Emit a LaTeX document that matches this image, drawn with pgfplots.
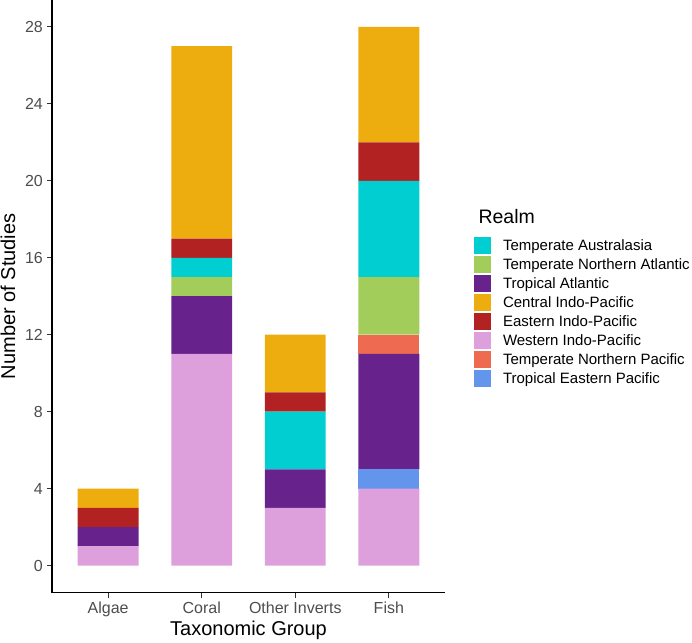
\documentclass[border=0pt]{standalone}
\usepackage{pgfplots}
\pgfplotsset{compat=1.18}
\usepackage{fontspec}
\setmainfont{Liberation Sans}
\definecolor{cTAus}{HTML}{00CED1}
\definecolor{cTNA}{HTML}{A2CD5A}
\definecolor{cTA}{HTML}{68228B}
\definecolor{cCIP}{HTML}{EEAD0E}
\definecolor{cEIP}{HTML}{B22222}
\definecolor{cWIP}{HTML}{DDA0DD}
\definecolor{cTNP}{HTML}{EE6A50}
\definecolor{cTEP}{HTML}{6495ED}
\definecolor{tickgray}{HTML}{4D4D4D}
\definecolor{tickline}{HTML}{333333}
\pgfplotsset{myleg/.style={legend image code/.code={\fill[fill=#1, draw=none] (0pt,-3.5pt) rectangle (17pt,13.5pt); \path[draw=none, fill=none] (0pt,-5.5pt) rectangle (29pt,13.5pt);}}}
\begin{document}
\begin{tikzpicture}
\path[use as bounding box] (0,0) rectangle (692pt,642pt);
\begin{axis}[
  at={(52pt,49.5pt)}, anchor=south west,
  scale only axis, width=393pt, height=592.5pt,
  xmin=0.4, xmax=4.6, ymin=-1.4, ymax=29.4,
  ybar stacked, bar width=0.65,
  clip=false,
  axis lines=left, axis line style={-, line width=1.1pt, black},
  xtick={1,2,3,4}, xticklabels={Algae,Coral,Other Inverts,Fish},
  ytick={0,4,8,12,16,20,24,28},
  tick align=outside, major tick length=5pt,
  tick style={line width=1pt, color=tickline},
  /pgf/number format/assume math mode=true,
  tick label style={font=\fontsize{16}{19}\selectfont, text=tickgray, inner sep=0pt},
  xticklabel style={anchor=base, yshift=-15.5pt},
  yticklabel style={anchor=east, xshift=-4pt},
  xlabel={Taxonomic Group},
  ylabel={Number of Studies},
  every axis x label/.style={at={(axis description cs:0.5,-0.0734)}, anchor=base, font=\fontsize{20}{24}\selectfont},
  every axis y label/.style={at={(axis description cs:-0.0941,0.5)}, anchor=base, rotate=90, font=\fontsize{20}{24}\selectfont},
  legend style={at={(axis description cs:1.0738,0.6)}, anchor=north west, draw=none, fill=none,
    inner xsep=0pt, inner ysep=0pt, outer sep=0pt, row sep=0pt, column sep=0pt,
    font=\fontsize{15}{18}\selectfont, cells={anchor=base west},
    nodes={inner sep=0pt, text depth=0pt}},
]
% stacking order bottom to top
\addplot[fill=cWIP, draw=none, forget plot] coordinates {(1,1) (2,11) (3,3) (4,4)};
\addplot[fill=cTEP, draw=none, forget plot] coordinates {(1,0) (2,0) (3,0) (4,1)};
\addplot[fill=cTA, draw=none, forget plot] coordinates {(1,1) (2,3) (3,2) (4,6)};
\addplot[fill=cTNP, draw=none, forget plot] coordinates {(1,0) (2,0) (3,0) (4,1)};
\addplot[fill=cTNA, draw=none, forget plot] coordinates {(1,0) (2,1) (3,0) (4,3)};
\addplot[fill=cTAus, draw=none, forget plot] coordinates {(1,0) (2,1) (3,3) (4,5)};
\addplot[fill=cEIP, draw=none, forget plot] coordinates {(1,1) (2,1) (3,1) (4,2)};
\addplot[fill=cCIP, draw=none, forget plot] coordinates {(1,1) (2,10) (3,3) (4,6)};
\addlegendimage{myleg=cTAus}\addlegendentry{Temperate Australasia}
\addlegendimage{myleg=cTNA}\addlegendentry{Temperate Northern Atlantic}
\addlegendimage{myleg=cTA}\addlegendentry{Tropical Atlantic}
\addlegendimage{myleg=cCIP}\addlegendentry{Central Indo-Pacific}
\addlegendimage{myleg=cEIP}\addlegendentry{Eastern Indo-Pacific}
\addlegendimage{myleg=cWIP}\addlegendentry{Western Indo-Pacific}
\addlegendimage{myleg=cTNP}\addlegendentry{Temperate Northern Pacific}
\addlegendimage{myleg=cTEP}\addlegendentry{Tropical Eastern Pacific}
\node[anchor=base west, font=\fontsize{19.5}{23}\selectfont] at (axis description cs:1.0763,0.6236) {Realm};
\end{axis}
\end{tikzpicture}
\end{document}
